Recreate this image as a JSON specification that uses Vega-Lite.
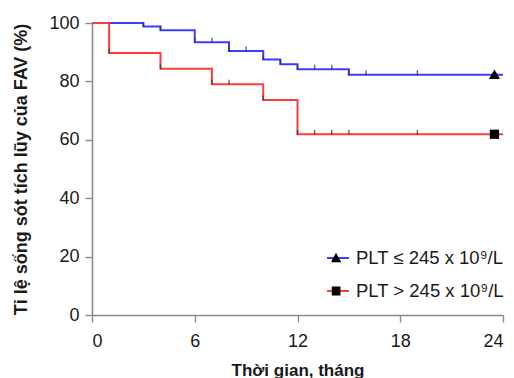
{
  "$schema": "https://vega.github.io/schema/vega-lite/v6.json",
  "width": 411,
  "height": 292,
  "autosize": "none",
  "padding": {"left": 92, "top": 23, "right": 11, "bottom": 63},
  "background": "white",
  "config": {
    "view": {"stroke": null},
    "font": "Liberation Sans",
    "axis": {
      "domainColor": "#8a8a8a",
      "domainWidth": 1.6,
      "tickColor": "#8a8a8a",
      "tickWidth": 1.4,
      "tickSize": 7,
      "grid": false,
      "labelFont": "Liberation Sans",
      "labelFontSize": 18,
      "labelColor": "#1a1a1a",
      "titleFont": "Liberation Sans",
      "titleFontSize": 17,
      "titleFontWeight": "bold",
      "titleColor": "#1a1a1a"
    }
  },
  "datasets": {
    "curves": [
      {"group": "PLT ≤ 245 x 10⁹/L", "t": 0, "s": 100},
      {"group": "PLT ≤ 245 x 10⁹/L", "t": 3, "s": 98.8},
      {"group": "PLT ≤ 245 x 10⁹/L", "t": 4, "s": 97.5},
      {"group": "PLT ≤ 245 x 10⁹/L", "t": 6, "s": 93.4},
      {"group": "PLT ≤ 245 x 10⁹/L", "t": 8, "s": 90.4},
      {"group": "PLT ≤ 245 x 10⁹/L", "t": 10, "s": 87.5},
      {"group": "PLT ≤ 245 x 10⁹/L", "t": 11, "s": 85.9},
      {"group": "PLT ≤ 245 x 10⁹/L", "t": 12, "s": 84.2},
      {"group": "PLT ≤ 245 x 10⁹/L", "t": 15, "s": 82.3},
      {"group": "PLT ≤ 245 x 10⁹/L", "t": 24, "s": 82.3},
      {"group": "PLT > 245 x 10⁹/L", "t": 0, "s": 100},
      {"group": "PLT > 245 x 10⁹/L", "t": 1, "s": 89.7},
      {"group": "PLT > 245 x 10⁹/L", "t": 4, "s": 84.3},
      {"group": "PLT > 245 x 10⁹/L", "t": 7, "s": 79.0},
      {"group": "PLT > 245 x 10⁹/L", "t": 10, "s": 73.6},
      {"group": "PLT > 245 x 10⁹/L", "t": 12, "s": 61.9},
      {"group": "PLT > 245 x 10⁹/L", "t": 24, "s": 61.9}
    ],
    "ticks": [
      {"t": 3, "s": 98.8}, {"t": 4, "s": 97.5}, {"t": 6, "s": 93.4}, {"t": 7, "s": 93.4},
      {"t": 8, "s": 90.4}, {"t": 9, "s": 90.4}, {"t": 10, "s": 87.5}, {"t": 11, "s": 85.9},
      {"t": 12, "s": 84.2}, {"t": 13, "s": 84.2}, {"t": 14, "s": 84.2}, {"t": 15, "s": 82.3},
      {"t": 16, "s": 82.3}, {"t": 19, "s": 82.3},
      {"t": 1, "s": 89.7}, {"t": 4, "s": 84.3}, {"t": 7, "s": 79.0}, {"t": 8, "s": 79.0},
      {"t": 10, "s": 73.6}, {"t": 12, "s": 61.9}, {"t": 13, "s": 61.9}, {"t": 14, "s": 61.9},
      {"t": 15, "s": 61.9}, {"t": 19, "s": 61.9}
    ],
    "ends": [
      {"marker": "triangle", "t": 23.5, "s": 82.3},
      {"marker": "square", "t": 23.5, "s": 61.9}
    ]
  },
  "layer": [
    {
      "data": {"name": "curves"},
      "mark": {"type": "line", "interpolate": "step-after", "strokeWidth": 2},
      "encoding": {
        "x": {
          "field": "t", "type": "quantitative",
          "scale": {"domain": [0, 24], "nice": false},
          "axis": {"values": [0, 6, 12, 18, 24], "title": "Thời gian, tháng", "labelPadding": 10, "titleY": 60, "titleBaseline": "alphabetic", "titleFontSize": 17}
        },
        "y": {
          "field": "s", "type": "quantitative",
          "scale": {"domain": [0, 100], "nice": false},
          "axis": {"values": [0, 20, 40, 60, 80, 100], "title": "Tỉ lệ sống sót tích lũy của FAV (%)", "labelPadding": 6, "titleX": -62, "titleFontSize": 18}
        },
        "color": {
          "field": "group", "type": "nominal",
          "scale": {"domain": ["PLT ≤ 245 x 10⁹/L", "PLT > 245 x 10⁹/L"], "range": ["#3c3cff", "#ff3c3c"]},
          "legend": {
            "orient": "none", "legendX": 234, "legendY": 225, "title": null,
            "symbolType": "stroke", "symbolSize": 484, "symbolStrokeWidth": 2,
            "labelFontSize": 18.5, "labelColor": "#1a1a1a", "labelOffset": 6, "labelFont": "Liberation Sans",
            "clipHeight": 20, "rowPadding": 13, "padding": 0
          }
        }
      }
    },
    {
      "data": {"name": "ticks"},
      "mark": {"type": "tick", "orient": "vertical", "color": "#333333", "size": 5, "thickness": 1.5, "yOffset": -2},
      "encoding": {
        "x": {"field": "t", "type": "quantitative"},
        "y": {"field": "s", "type": "quantitative"}
      }
    },
    {
      "data": {"name": "ends"},
      "mark": {"type": "point", "filled": true, "color": "black", "opacity": 1, "size": 85},
      "encoding": {
        "x": {"field": "t", "type": "quantitative"},
        "y": {"field": "s", "type": "quantitative"},
        "shape": {
          "field": "marker", "type": "nominal",
          "scale": {"domain": ["triangle", "square"], "range": ["M0,-1.15L1.2,0.95L-1.2,0.95Z", "square"]},
          "legend": {
            "orient": "none", "legendX": 239.5, "legendY": 225, "title": null,
            "symbolSize": 80, "symbolFillColor": "black", "symbolStrokeWidth": 0,
            "labelExpr": "''", "labelFontSize": 1,
            "clipHeight": 20, "rowPadding": 13, "padding": 0
          }
        }
      }
    },
    {
      "mark": {"type": "text", "align": "left", "baseline": "alphabetic", "fontSize": 18, "font": "Liberation Sans", "color": "#1a1a1a"},
      "encoding": {
        "x": {"datum": 2.45},
        "y": {"datum": 31.8},
        "text": {"value": "p = 0,024"}
      }
    }
  ]
}
